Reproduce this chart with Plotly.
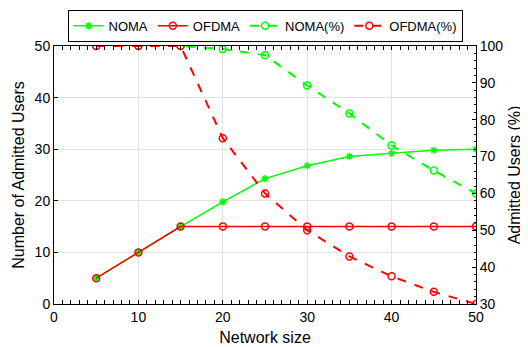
import plotly.graph_objects as go

network_size = [5, 10, 15, 20, 25, 30, 35, 40, 45, 50]
noma_users = [5, 10, 15, 19.8, 24.3, 26.8, 28.6, 29.2, 29.8, 30.0]
ofdma_users = [5, 10, 15, 15, 15, 15, 15, 15, 15, 15]
noma_pct = [100, 100, 100, 99.2, 97.5, 89.3, 81.7, 73.0, 66.2, 60.0]
ofdma_pct = [100, 100, 100, 75.0, 60.0, 50.0, 42.9, 37.5, 33.3, 30.0]

GREEN = "#00ff00"
RED = "#ff0000"
FONT = "Liberation Sans"

fig = go.Figure()
fig.add_trace(go.Scatter(x=network_size, y=noma_users, name="NOMA", mode="lines+markers",
                         line=dict(color=GREEN, width=1.5),
                         marker=dict(symbol="asterisk-open", size=6, color=GREEN, line=dict(color=GREEN, width=1.5))))
fig.add_trace(go.Scatter(x=network_size, y=ofdma_users, name="OFDMA", mode="lines+markers",
                         line=dict(color=RED, width=1.5),
                         marker=dict(symbol="circle-open", size=7, color=RED, line=dict(color=RED, width=1.5))))
fig.add_trace(go.Scatter(x=network_size, y=noma_pct, name="NOMA(%)", mode="lines+markers", yaxis="y2",
                         line=dict(color=GREEN, width=2, dash="dash"),
                         marker=dict(symbol="circle-open", size=7, color=GREEN, line=dict(color=GREEN, width=1.5))))
fig.add_trace(go.Scatter(x=network_size, y=ofdma_pct, name="OFDMA(%)", mode="lines+markers", yaxis="y2",
                         line=dict(color=RED, width=2, dash="dash"),
                         marker=dict(symbol="circle-open", size=7, color=RED, line=dict(color=RED, width=1.5))))

# the page places the figure 8px in from the top-left corner
fig.update_layout(
    width=520, height=339,
    margin=dict(l=46, r=52, t=38, b=43, autoexpand=False),
    paper_bgcolor="white", plot_bgcolor="white",
    font=dict(family=FONT, size=13, color="black"),
    showlegend=True,
    legend=dict(orientation="h", x=0.5, xanchor="center", y=1.078, yanchor="middle",
                bordercolor="black", borderwidth=1, bgcolor="white",
                font=dict(size=13, family=FONT), itemwidth=30, tracegroupgap=0),
    xaxis=dict(range=[0, 50], dtick=10, tick0=0, showgrid=True, gridcolor="#e3e3e3", gridwidth=1,
               zeroline=False, showline=True, linecolor="black", linewidth=1, mirror="allticks",
               ticks="inside", ticklen=4, tickcolor="black", automargin=False,
               minor=dict(dtick=1, ticks="inside", ticklen=2, tickcolor="black", showgrid=False),
               title=dict(text="Network size", font=dict(size=16), standoff=8),
               tickfont=dict(size=14)),
    yaxis=dict(range=[0, 50], dtick=10, showgrid=True, gridcolor="#e3e3e3", gridwidth=1,
               zeroline=False, showline=True, linecolor="black", linewidth=1,
               ticks="inside", ticklen=4, tickcolor="black", automargin=False,
               title=dict(text="Number of Admitted Users", font=dict(size=16), standoff=6),
               tickfont=dict(size=14)),
    yaxis2=dict(range=[30, 100], dtick=10, overlaying="y", side="right", showgrid=False,
                zeroline=False, showline=True, linecolor="black", linewidth=1,
                ticks="inside", ticklen=4, tickcolor="black", automargin=False,
                minor=dict(dtick=2, ticks="inside", ticklen=2, tickcolor="black", showgrid=False),
                title=dict(text="Admitted Users (%)", font=dict(size=16), standoff=6),
                tickfont=dict(size=14)),
)

fig.write_html("out.html")
